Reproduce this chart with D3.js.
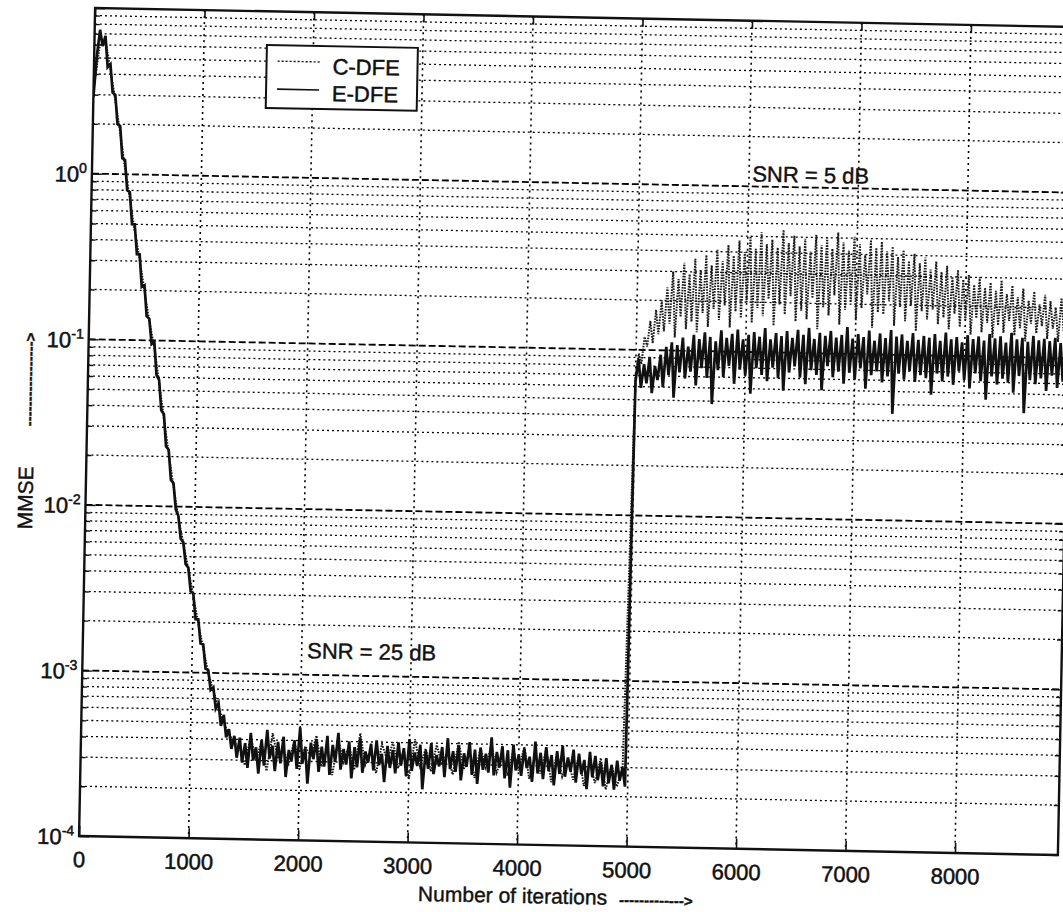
<!DOCTYPE html>
<html><head><meta charset="utf-8">
<script src="https://cdn.jsdelivr.net/npm/d3@7"></script>
<style>
body{margin:0;background:#fff}
svg{display:block}
text{font-family:"Liberation Sans",Arial,Helvetica,sans-serif;fill:#111}
</style>
</head><body>
<svg id="chart" width="1063" height="912"></svg>
<script>
// ---------------- DATA ----------------
const seriesNames = ["C-DFE", "E-DFE"];
const xTickValues = [0, 1000, 2000, 3000, 4000, 5000, 6000, 7000, 8000];
const yDecades = [-4, -3, -2, -1, 0];

// E-DFE, transient phase: iterations 0..1425, every 25 iterations (MMSE)
const eTransient = [2.9, 5.2, 7.4, 5.9, 6.8, 4.4, 4.6, 3.1, 3.0, 2.0, 1.95, 1.25, 1.22, 0.8, 0.78, 0.5, 0.5, 0.33, 0.33, 0.21,
  0.215, 0.14, 0.135, 0.095, 0.098, 0.062, 0.058, 0.038, 0.036, 0.023, 0.022, 0.0145, 0.0138, 0.0096, 0.0088, 0.0064, 0.0061,
  0.0045, 0.0043, 0.0031, 0.0030, 0.0021, 0.0021, 0.0015, 0.00148, 0.00106, 0.00104, 0.00079, 0.00082, 0.00061, 0.00066,
  0.00048, 0.00056, 0.00041, 0.00046, 0.00035, 0.00042, 0.00031];
// E-DFE, SNR = 25 dB floor: iterations 1450..4975, every 25 (MMSE in units of 1e-4)
const eFloorE4 = [4.1, 2.9, 3.8, 2.7, 4.4, 3.0, 3.6, 2.5, 4.0, 2.8,
  4.6, 3.1, 3.7, 2.6, 3.9, 2.9, 4.2, 2.4, 3.5, 3.0,
  4.0, 2.7, 4.8, 2.9, 3.6, 2.2, 3.9, 3.1, 4.1, 2.6,
  3.7, 2.8, 4.3, 2.5, 3.8, 3.0, 4.5, 2.7, 3.6, 2.9,
  4.0, 2.4, 3.7, 2.8, 4.2, 2.6, 3.5, 3.0, 3.9, 2.7,
  4.1, 2.9, 3.4, 2.3, 3.8, 2.8, 3.6, 2.6, 4.0, 2.9,
  3.7, 2.5, 4.2, 2.7, 3.5, 2.9, 3.9, 2.1, 3.6, 2.8,
  4.0, 2.6, 3.4, 2.9, 3.8, 2.5, 4.3, 2.8, 3.6, 2.7,
  3.9, 2.4, 3.5, 2.9, 4.1, 2.6, 3.7, 2.3, 3.8, 2.8,
  3.5, 2.7, 4.4, 2.6, 3.6, 2.9, 3.9, 2.5, 3.7, 2.2,
  4.0, 2.8, 3.5, 2.6, 3.8, 2.9, 3.4, 2.4, 4.2, 2.7,
  3.6, 2.5, 3.9, 2.8, 3.5, 2.3, 3.7, 2.7, 4.0, 2.6,
  3.4, 2.8, 3.8, 2.4, 3.6, 2.7, 3.3, 2.2, 3.7, 2.6,
  3.5, 2.5, 3.2, 2.3, 3.4, 2.4, 3.1, 2.2, 3.3, 2.5,
  3.0, 2.3];
// E-DFE, SNR = 5 dB: iterations 5000..8950, every 25 (MMSE in units of 1e-2)
const eHighE2 = [6.5, 8.8, 5.9, 8.2, 6.3, 9.1, 5.5, 8.0, 6.6, 9.4,
  6.0, 10.5, 7.1, 11.2, 5.2, 10.8, 7.4, 12.0, 6.8, 10.6,
  7.5, 12.5, 6.2, 11.8, 7.9, 13.0, 6.9, 12.2, 4.8, 11.5,
  7.7, 13.4, 7.0, 12.1, 8.2, 12.8, 6.4, 13.6, 7.8, 11.9,
  7.2, 12.7, 5.6, 13.2, 8.0, 12.4, 7.3, 14.0, 6.7, 12.0,
  8.1, 13.1, 7.0, 12.6, 5.9, 13.5, 7.6, 12.3, 8.3, 13.8,
  7.1, 12.9, 6.5, 14.2, 7.9, 12.2, 7.4, 13.3, 6.0, 12.8,
  8.4, 13.7, 7.2, 12.5, 7.8, 13.0, 6.6, 14.5, 7.7, 12.4,
  7.0, 13.2, 8.2, 12.7, 6.2, 13.9, 7.5, 12.1, 7.9, 13.4,
  6.8, 12.6, 7.4, 14.1, 4.4, 12.9, 7.7, 13.3, 7.1, 12.2,
  8.0, 13.6, 6.9, 12.4, 7.6, 13.1, 7.3, 12.8, 5.8, 13.5,
  7.8, 12.3, 7.0, 13.8, 7.5, 12.6, 6.7, 13.0, 8.1, 12.1,
  7.2, 13.4, 6.4, 12.7, 7.9, 13.2, 7.1, 12.5, 5.5, 13.7,
  7.6, 12.9, 6.8, 13.3, 7.4, 12.2, 7.0, 14.0, 6.1, 12.8,
  7.7, 13.1, 4.6, 12.4, 7.3, 13.5, 6.9, 12.7, 7.5, 13.0,
  6.3, 12.6, 7.8, 13.2, 6.6, 12.3, 7.2, 12.9, 5.0];

// C-DFE, transient phase: iterations 0..1400, every 50 (MMSE)
const cTransient = [3.2, 6.0, 6.4, 4.3, 2.8, 1.8, 1.1, 0.72, 0.46, 0.31, 0.2, 0.13, 0.092, 0.056, 0.034, 0.021,
  0.0132, 0.0086, 0.006, 0.0042, 0.0029, 0.002, 0.0014, 0.001, 0.00078, 0.00063, 0.0005, 0.00043, 0.00038];
// C-DFE, SNR = 25 dB floor: iterations 1450..4950, every 50 (units of 1e-4)
const cFloorE4 = [3.6, 2.8, 4.2, 3.0, 3.9, 2.6, 4.4, 3.1, 3.5, 2.9,
  4.0, 2.7, 3.7, 3.2, 4.3, 2.8, 3.6, 2.5, 4.1, 3.0,
  3.8, 2.7, 4.5, 2.9, 3.5, 2.6, 3.9, 3.1, 4.0, 2.8,
  3.6, 2.4, 4.2, 2.9, 3.7, 2.7, 3.9, 3.0, 3.5, 2.6,
  4.1, 2.8, 3.6, 2.5, 3.8, 2.9, 4.0, 2.7, 3.4, 2.6,
  3.7, 2.8, 3.9, 2.5, 3.5, 2.7, 3.8, 2.4, 3.6, 2.6,
  3.3, 2.5, 3.5, 2.3, 3.2, 2.4, 3.4, 2.2, 3.1, 2.3,
  2.9];
// C-DFE, SNR = 5 dB: iterations 5000..8950, every 25 (units of 1e-2)
const cHighE2 = [7.0, 9.5, 8.2, 12.0, 10.5, 15.0, 11.0, 17.5, 12.5, 20.0,
  13.0, 24.0, 14.5, 30.0, 12.0, 27.0, 16.0, 34.0, 13.5, 29.0,
  15.0, 36.0, 13.0, 31.0, 17.0, 38.0, 14.0, 33.0, 18.0, 41.0,
  15.5, 35.0, 19.0, 44.0, 14.0, 38.0, 17.5, 47.0, 16.0, 40.0,
  20.0, 50.0, 15.0, 42.0, 18.5, 53.0, 16.5, 45.0, 21.0, 48.0,
  14.5, 43.0, 19.5, 55.0, 17.0, 46.0, 22.0, 51.0, 15.5, 44.0,
  18.0, 49.0, 16.0, 41.0, 21.5, 52.0, 14.0, 45.0, 19.0, 50.0,
  17.0, 43.0, 22.5, 54.0, 15.0, 47.0, 18.5, 42.0, 20.5, 51.0,
  16.0, 46.0, 19.0, 40.0, 23.0, 49.0, 14.5, 44.0, 18.0, 48.0,
  17.5, 42.0, 21.0, 45.0, 15.0, 39.0, 19.5, 43.0, 16.0, 37.0,
  20.0, 41.0, 14.0, 36.0, 18.5, 39.0, 16.5, 33.0, 19.0, 37.0,
  15.5, 32.0, 17.0, 35.0, 14.5, 30.0, 18.0, 33.0, 15.0, 29.0,
  16.5, 31.0, 13.5, 27.0, 17.0, 30.0, 14.0, 26.0, 16.0, 28.0,
  13.0, 25.0, 15.5, 29.0, 14.0, 24.0, 16.5, 27.0, 13.5, 23.0,
  15.0, 26.0, 12.5, 22.0, 16.0, 25.0, 14.0, 21.0, 15.5, 24.0,
  13.0, 22.0, 15.0, 20.0, 12.5, 23.0, 14.5, 21.0, 13.0];

// ---------------- BUILD SERIES ----------------
function segment(vals, start, step, unit) { return vals.map((v, i) => [start + i * step, v * unit]); }
const eData = [].concat(segment(eTransient, 0, 25, 1), segment(eFloorE4, 1450, 25, 1e-4), segment(eHighE2, 5000, 25, 1e-2));
const cData = [].concat(segment(cTransient, 0, 50, 1), segment(cFloorE4, 1450, 50, 1e-4), segment(cHighE2, 5000, 25, 1e-2));

// ---------------- LAYOUT ----------------
const W = 1063, H = 912;
const ml = 87, mt = 17.4, pw = 979, ph = 828.2;
const FONT = "'Liberation Sans', Arial, sans-serif";
const svg = d3.select("#chart");
svg.append("rect").attr("width", W).attr("height", H).attr("fill", "#fff");
// the scanned figure is slightly rotated
const root = svg.append("g").attr("transform", "rotate(1.11,576.5,431.5)");

const x = d3.scaleLinear().domain([0, 8940]).range([ml, ml + pw]);
const y = d3.scaleLog().domain([1e-4, 10]).range([mt + ph, mt]);

const majorY = yDecades.map(k => Math.pow(10, k)).concat([10]);
const minorY = [];
yDecades.forEach(k => { for (let m = 2; m <= 9; m++) minorY.push(m * Math.pow(10, k)); });

root.append("defs").append("clipPath").attr("id", "clip")
  .append("rect").attr("x", ml).attr("y", mt).attr("width", pw).attr("height", ph);

// grid
const grid = root.append("g");
grid.selectAll(".gmin").data(minorY).join("line")
  .attr("x1", ml).attr("x2", ml + pw).attr("y1", d => y(d)).attr("y2", d => y(d))
  .attr("stroke", "#000").attr("stroke-width", 1.3).attr("stroke-dasharray", "2,3");
grid.selectAll(".gmaj").data(majorY.slice(1, -1)).join("line")
  .attr("x1", ml).attr("x2", ml + pw).attr("y1", d => y(d)).attr("y2", d => y(d))
  .attr("stroke", "#000").attr("stroke-width", 1.8).attr("stroke-dasharray", "7,3");
grid.selectAll(".gx").data(xTickValues.slice(1)).join("line")
  .attr("x1", d => x(d)).attr("x2", d => x(d)).attr("y1", mt).attr("y2", mt + ph)
  .attr("stroke", "#000").attr("stroke-width", 1.6).attr("stroke-dasharray", "2,4");

// series
const line = d3.line().x(d => x(d[0])).y(d => y(d[1]));
const plot = root.append("g").attr("clip-path", "url(#clip)");
plot.append("path").datum(cData).attr("d", line).attr("fill", "none")
  .attr("stroke", "#1a1a1a").attr("stroke-width", 2.0).attr("stroke-dasharray", "1.6,1.2");
plot.append("path").datum(eData).attr("d", line).attr("fill", "none")
  .attr("stroke", "#111").attr("stroke-width", 2.7).attr("stroke-linejoin", "miter");

// axes
const gx = root.append("g").attr("transform", `translate(0,${mt + ph})`)
  .call(d3.axisBottom(x).tickValues(xTickValues).tickSizeInner(-10).tickSizeOuter(0).tickFormat(d3.format("d")));
gx.select(".domain").remove();
gx.selectAll(".tick line").attr("stroke", "#111").attr("stroke-width", 1.6);
gx.selectAll(".tick text").attr("y", 31).attr("dy", 0).attr("font-size", 22)
  .attr("font-family", FONT).attr("fill", "#111").attr("stroke", "#111").attr("stroke-width", 0.5);

const gxt = root.append("g").attr("transform", `translate(0,${mt})`)
  .call(d3.axisTop(x).tickValues(xTickValues).tickSizeInner(-8).tickSizeOuter(0).tickFormat(""));
gxt.select(".domain").remove();
gxt.selectAll(".tick line").attr("stroke", "#111").attr("stroke-width", 1.6);

const allY = majorY.concat(minorY);
const isMajor = d => majorY.some(m => Math.abs(Math.log10(d) - Math.log10(m)) < 1e-6);
const gy = root.append("g").attr("transform", `translate(${ml},0)`)
  .call(d3.axisLeft(y).tickValues(allY).tickSizeInner(-5).tickSizeOuter(0).tickFormat(""));
gy.select(".domain").remove();
gy.selectAll(".tick line").attr("stroke", "#111").attr("stroke-width", 1.4);
gy.selectAll(".tick").filter(d => isMajor(d)).select("line").attr("x2", 10);
gy.selectAll(".tick").filter(d => isMajor(d) && d < 5).select("text")
  .attr("x", -5).attr("dy", 0).attr("y", 8).attr("text-anchor", "end")
  .attr("font-family", FONT).attr("fill", "#111").attr("stroke", "#111").attr("stroke-width", 0.5)
  .each(function (d) {
    const t = d3.select(this);
    t.text(null);
    t.append("tspan").attr("font-size", 22).text("10");
    t.append("tspan").attr("font-size", 14).attr("dy", -9).text(String(Math.round(Math.log10(d))));
  });

const gyr = root.append("g").attr("transform", `translate(${ml + pw},0)`)
  .call(d3.axisRight(y).tickValues(allY).tickSizeInner(-5).tickSizeOuter(0).tickFormat(""));
gyr.select(".domain").remove();
gyr.selectAll(".tick line").attr("stroke", "#111").attr("stroke-width", 1.4);
gyr.selectAll(".tick").filter(d => isMajor(d)).select("line").attr("x2", -10);

// frame
root.append("rect").attr("x", ml).attr("y", mt).attr("width", pw).attr("height", ph)
  .attr("fill", "none").attr("stroke", "#111").attr("stroke-width", 2.4);

// legend
const lg = root.append("g").attr("transform", "translate(259.5,51)");
lg.append("rect").attr("width", 151).attr("height", 63).attr("fill", "#fff")
  .attr("stroke", "#111").attr("stroke-width", 2);
const legendStyles = [{dash: "2,2", w: 1.4}, {dash: null, w: 1.6}];
seriesNames.forEach((name, i) => {
  const yy = 16 + i * 28;
  lg.append("line").attr("x1", 11).attr("x2", 53).attr("y1", yy).attr("y2", yy)
    .attr("stroke", "#111").attr("stroke-width", legendStyles[i].w)
    .attr("stroke-dasharray", legendStyles[i].dash);
  lg.append("text").attr("x", 66).attr("y", 28 + i * 27).attr("font-size", 22)
    .attr("stroke", "#111").attr("stroke-width", 0.5).text(name);
});

// annotations
root.append("text").attr("x", x(6030)).attr("y", y(1.07)).attr("font-size", 22)
  .attr("stroke", "#111").attr("stroke-width", 0.4).text("SNR = 5 dB");
root.append("text").attr("x", x(2050)).attr("y", y(1.26e-3)).attr("font-size", 22)
  .attr("stroke", "#111").attr("stroke-width", 0.4).text("SNR = 25 dB");

// axis labels
const xl = root.append("text").attr("x", 427).attr("y", 904).attr("font-size", 21)
  .attr("stroke", "#111").attr("stroke-width", 0.4);
xl.append("tspan").text("Number of iterations");
xl.append("tspan").attr("dx", 12).attr("font-size", 15).attr("font-weight", "bold").text("-------------\u003E");

const ylab = root.append("text").attr("transform", "translate(34,540) rotate(-90)").attr("font-size", 21)
  .attr("stroke", "#111").attr("stroke-width", 0.4);
ylab.append("tspan").text("MMSE");
ylab.append("tspan").attr("dx", 40).attr("font-size", 15).attr("font-weight", "bold").text("-----------------\u003E");
</script>
</body></html>
